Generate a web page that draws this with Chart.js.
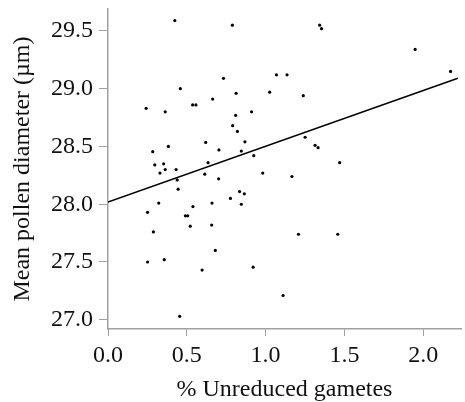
<!DOCTYPE html>
<html>
<head>
<meta charset="utf-8">
<script src="https://cdn.jsdelivr.net/npm/chart.js@4.4.0/dist/chart.umd.min.js"></script>
<style>
    html, body { margin: 0; padding: 0; background: #fff; }
    #chartWrapper { width: 465px; height: 402px; }
    .fontWarm { font-family: "Liberation Serif"; position: absolute; left: -999px; top: 0; }
</style>
</head>
<body>
<span class="fontWarm">0.5 % Unreduced gametes µm</span>
<div id="chartWrapper"><canvas id="scatterChart"></canvas></div>
<script>
// % unreduced gametes per plant
var gameteX = [
    0.424, 0.789, 0.242, 0.459, 0.733, 0.813, 1.026, 1.069, 1.136, 0.363,
    0.537, 0.558, 0.664, 0.810, 0.911, 0.791, 0.821, 0.284, 0.383, 0.620,
    0.704, 0.869, 0.846, 0.925, 0.297, 0.353, 0.330, 0.363, 0.432, 0.635,
    0.614, 0.702, 0.982, 0.439, 0.445, 0.322, 0.251, 0.539, 0.660, 0.777,
    0.835, 0.865, 0.846, 0.491, 0.506, 0.288, 0.522, 0.658, 0.681, 0.251,
    0.357, 0.597, 0.921, 0.455, 1.343, 1.355, 1.949, 2.174, 1.239, 1.251,
    1.314, 1.333, 1.470, 1.167, 1.209, 1.458, 1.111
];
// mean pollen diameter (um)
var diameterY = [
    29.59, 29.55, 28.83, 29.00, 29.09, 28.96, 28.97, 29.12, 29.12, 28.80,
    28.86, 28.86, 28.91, 28.77, 28.80, 28.68, 28.63, 28.455, 28.50, 28.535,
    28.47, 28.54, 28.46, 28.42, 28.34, 28.35, 28.27, 28.30, 28.30, 28.36,
    28.26, 28.22, 28.27, 28.21, 28.13, 28.01, 27.93, 27.98, 28.01, 28.05,
    28.11, 28.09, 28.00, 27.90, 27.90, 27.76, 27.81, 27.82, 27.60, 27.50,
    27.52, 27.43, 27.455, 27.03, 29.55, 29.52, 29.34, 29.15, 28.94, 28.58,
    28.51, 28.49, 28.36, 28.24, 27.74, 27.74, 27.21
];
// regression line ends
var fitX = [0, 2.22];
var fitY = [28.02, 29.09];

var xTicks = [0, 0.5, 1.0, 1.5, 2.0];
var yTicks = [27.0, 27.5, 28.0, 28.5, 29.0, 29.5];

var fontFamily = '"Liberation Serif", "Times New Roman", Times, serif';
var axisGray = '#a0a0a0';

function toPoints(xs, ys) {
    var pts = [];
    for (var i = 0; i < xs.length; i++) {
        pts.push({ x: xs[i], y: ys[i] });
    }
    return pts;
}

function drawChart() {
    var data = {
        datasets: [{
                label: 'Plants',
                data: toPoints(gameteX, diameterY),
                backgroundColor: '#000',
                borderWidth: 0,
                pointRadius: 1.6
            },
            {
                label: 'Fit',
                type: 'line',
                data: toPoints(fitX, fitY),
                borderColor: '#000',
                borderWidth: 1.5,
                pointRadius: 0,
                fill: false
            }
        ]
    };

    var config = {
        type: 'scatter',
        data: data,
        options: {
            responsive: true,
            maintainAspectRatio: false,
            animation: false,
            layout: {
                padding: { top: 9, right: 0, left: 0, bottom: 0 }
            },
            plugins: {
                legend: { display: false },
                tooltip: { enabled: false }
            },
            scales: {
                x: {
                    type: 'linear',
                    min: 0,
                    max: 2.24,
                    afterBuildTicks: function(axis) {
                        axis.ticks = xTicks.map(function(v) { return { value: v }; });
                    },
                    afterFit: function(axis) {
                        axis.height = 73;
                        axis.paddingLeft = 0;
                        axis.paddingRight = 0;
                    },
                    grid: {
                        drawOnChartArea: false,
                        drawTicks: true,
                        tickLength: 7,
                        color: axisGray
                    },
                    border: { display: true, color: axisGray, width: 1.5 },
                    ticks: {
                        padding: 5,
                        color: '#111',
                        font: { family: fontFamily, size: 24 },
                        maxRotation: 0,
                        callback: function(v) { return Number(v).toFixed(1); }
                    },
                    title: {
                        display: true,
                        text: '% Unreduced gametes',
                        color: '#111',
                        font: { family: fontFamily, size: 24 },
                        padding: { top: 0, bottom: -2 }
                    }
                },
                y: {
                    type: 'linear',
                    min: 26.92,
                    max: 29.69,
                    afterBuildTicks: function(axis) {
                        axis.ticks = yTicks.map(function(v) { return { value: v }; });
                    },
                    afterFit: function(axis) {
                        axis.width = 108;
                        axis.paddingTop = 0;
                        axis.paddingBottom = 0;
                    },
                    grid: {
                        drawOnChartArea: false,
                        drawTicks: true,
                        tickLength: 9,
                        color: axisGray
                    },
                    border: { display: true, color: axisGray, width: 1.5 },
                    ticks: {
                        padding: 6,
                        color: '#111',
                        font: { family: fontFamily, size: 24 },
                        callback: function(v) { return Number(v).toFixed(1); }
                    },
                    title: {
                        display: true,
                        text: 'Mean pollen diameter (µm)',
                        color: '#111',
                        font: { family: fontFamily, size: 24 },
                        padding: { top: 8, bottom: 0 }
                    }
                }
            }
        }
    };

    var myChart = new Chart(
        document.getElementById('scatterChart'),
        config
    );
}

if (document.fonts && document.fonts.load) {
    document.fonts.load('24px "Liberation Serif"').then(drawChart, drawChart);
} else {
    drawChart();
}
</script>
</body>
</html>
